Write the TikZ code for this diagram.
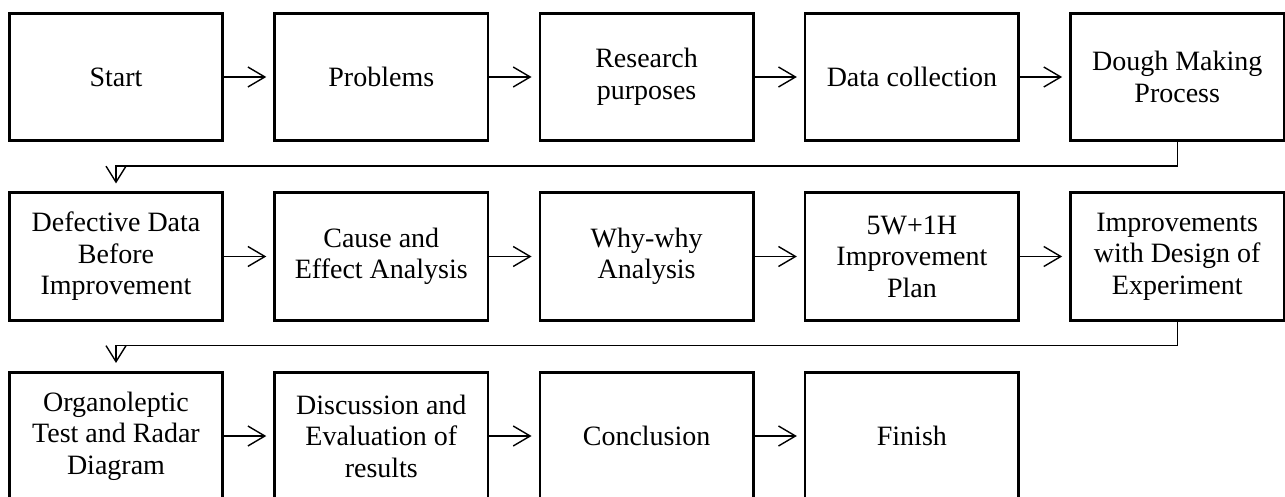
\documentclass[tikz,border=0pt]{standalone}
\usepackage{fontspec}
\setmainfont{Liberation Serif}
\usetikzlibrary{arrows.meta}
\begin{document}
\begin{tikzpicture}[x=1pt,y=-1pt,
  stepbox/.style={draw=black, line width=2.6pt, minimum width=213.5pt,
    minimum height=127.5pt, inner sep=0pt, align=center,
    font=\fontsize{28}{31.5}\selectfont},
  flow/.style={line width=1.4pt,
    -{Straight Barb[length=17pt,width=20pt,line width=1.4pt]}},
  drop/.style={line width=1.4pt,
    -{Straight Barb[length=16pt,width=20pt,line width=1.4pt]}},
]
\useasboundingbox (0,0) rectangle (1285,497);
\clip (0,0) rectangle (1285,497);

% first row
\node[stepbox] (start)    at (116,77)    {Start};
\node[stepbox] (problems) at (381.3,77)  {Problems};
\node[stepbox] (purpose)  at (646.6,77)  {Research\\purposes};
\node[stepbox] (data)     at (911.9,77)  {Data collection};
\node[stepbox] (dough)    at (1177.2,77) {Dough Making\\Process};

% second row
\node[stepbox] (defect)   at (116,256.5)    {Defective Data\\Before\\Improvement};
\node[stepbox] (cause)    at (381.3,256.5)  {Cause and\\Effect Analysis};
\node[stepbox] (why)      at (646.6,256.5)  {Why-why\\Analysis};
\node[stepbox] (plan)     at (911.9,256.5)  {5W+1H\\Improvement\\Plan};
\node[stepbox] (doe)      at (1177.2,256.5) {Improvements\\with Design of\\Experiment};

% third row
\node[stepbox] (organo)   at (116,436)   {Organoleptic\\Test and Radar\\Diagram};
\node[stepbox] (discuss)  at (381.3,436) {Discussion and\\Evaluation of\\results};
\node[stepbox] (concl)    at (646.6,436) {Conclusion};
\node[stepbox] (finish)   at (911.9,436) {Finish};

% connectors within rows
\foreach \a/\b in {start/problems, problems/purpose, purpose/data, data/dough,
                   defect/cause, cause/why, why/plan, plan/doe,
                   organo/discuss, discuss/concl, concl/finish}
  \draw[flow, shorten >=7pt] (\a.east) -- (\b.west);

% row changes
\draw[drop, shorten >=8pt] (dough.south) -- ++(0,24) -| (defect.north);
\draw[drop, shorten >=8pt] (doe.south) -- ++(0,24) -| (organo.north);
\end{tikzpicture}
\end{document}
